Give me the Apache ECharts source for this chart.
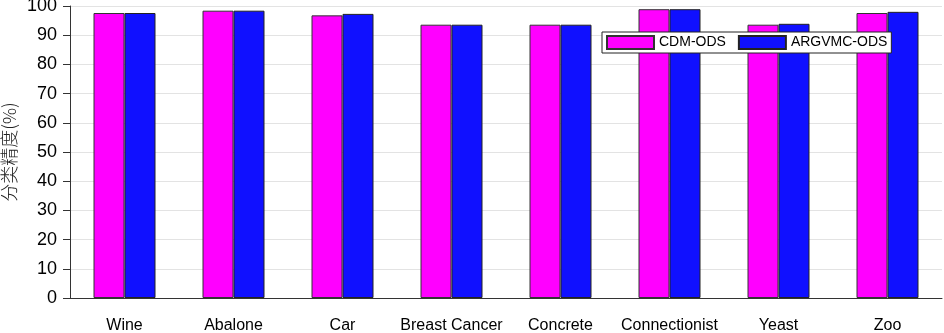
<!DOCTYPE html>
<html>
<head>
<meta charset="utf-8">
<script src="https://cdn.jsdelivr.net/npm/echarts@6/dist/echarts.min.js"></script>
<style>
  html, body { margin: 0; padding: 0; background: #fff; }
  #chart { width: 944px; height: 333px; }
</style>
</head>
<body>
<div id="chart"></div>
<script>
  // data
  const categories = ['Wine', 'Abalone', 'Car', 'Breast Cancer', 'Concrete', 'Connectionist', 'Yeast', 'Zoo']
  const cdmOds = [97.6, 98.4, 96.8, 93.6, 93.6, 98.9, 93.6, 97.6]
  const argvmcOds = [97.6, 98.4, 97.3, 93.6, 93.6, 98.9, 93.9, 98.0]
  const seriesNames = ['CDM-ODS', 'ARGVMC-ODS']
  const yTicks = { min: 0, max: 100, interval: 10 }

  const font = '"Liberation Sans", Arial, sans-serif'
  const chart = echarts.init(document.getElementById('chart'))

  chart.setOption({
      animation: false,
      textStyle: { fontFamily: font },
      grid: {
          left: 70,
          right: 2,
          top: 6,
          bottom: 35,
          outerBoundsMode: 'none',
          containLabel: false
      },
      legend: {
          data: seriesNames,
          left: 602,
          top: 32,
          orient: 'horizontal',
          icon: 'rect',
          itemWidth: 47,
          itemHeight: 13,
          itemGap: 12,
          padding: [3, 4, 3, 4],
          backgroundColor: '#fff',
          borderColor: '#222',
          borderWidth: 1,
          borderRadius: 0,
          textStyle: {
              fontFamily: font,
              fontSize: 14,
              color: '#000',
              padding: [0, 0, 0, 0]
          }
      },
      xAxis: {
          type: 'category',
          data: categories,
          axisLine: { lineStyle: { color: '#333', width: 1 } },
          axisTick: {
              alignWithLabel: true,
              length: 9,
              lineStyle: { color: '#333' }
          },
          axisLabel: {
              fontFamily: font,
              fontSize: 16,
              color: '#000',
              margin: 20,
              interval: 0
          },
          splitLine: { show: false }
      },
      yAxis: {
          type: 'value',
          min: yTicks.min,
          max: yTicks.max,
          interval: yTicks.interval,
          name: '分类精度(%)',
          nameLocation: 'middle',
          nameGap: 52,
          nameMoveOverlap: false,
          nameTextStyle: {
              fontFamily: '"Noto Sans CJK SC", sans-serif',
              fontSize: 18,
              fontWeight: 300,
              color: '#222'
          },
          axisLine: { show: true, lineStyle: { color: '#333', width: 1 } },
          axisTick: {
              show: true,
              length: 7,
              lineStyle: { color: '#333' }
          },
          axisLabel: {
              fontFamily: font,
              fontSize: 18,
              color: '#000',
              margin: 13
          },
          splitLine: {
              show: true,
              lineStyle: { color: '#e3e3e3', width: 1 }
          }
      },
      series: [
          {
              name: seriesNames[0],
              type: 'bar',
              data: cdmOds,
              barWidth: 31,
              barGap: '0%',
              itemStyle: {
                  color: '#ff00ff',
                  borderColor: '#333',
                  borderWidth: 1
              }
          },
          {
              name: seriesNames[1],
              type: 'bar',
              data: argvmcOds,
              barWidth: 31,
              barGap: '0%',
              itemStyle: {
                  color: '#1010ff',
                  borderColor: '#222',
                  borderWidth: 1
              }
          }
      ]
  })
</script>
</body>
</html>
